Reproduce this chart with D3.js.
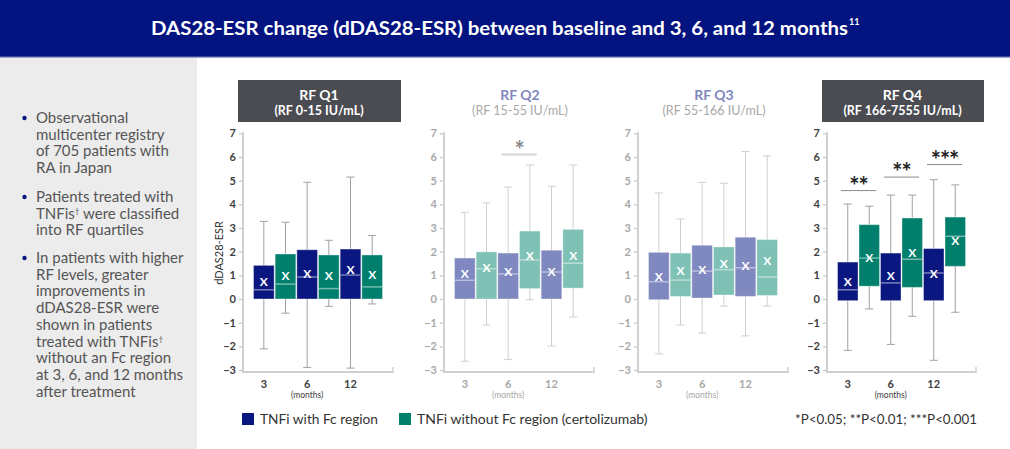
<!DOCTYPE html>
<html><head><meta charset="utf-8">
<script src="https://cdn.jsdelivr.net/npm/d3@7"></script>
<style>
html,body{margin:0;padding:0;background:#fff;}
svg{display:block;font-family:Lato,"Open Sans",sans-serif;}
</style></head><body>
<svg id="chart" width="1010" height="449"></svg>
<script>
// ---------------- DATA ----------------
const chartTitle = "DAS28-ESR change (dDAS28-ESR) between baseline and 3, 6, and 12 months";
const titleRef = "11";
const months = ["3", "6", "12"];
const seriesNames = ["TNFi with Fc region", "TNFi without Fc region (certolizumab)"];
const panelTitles = ["RF Q1", "RF Q2", "RF Q3", "RF Q4"];
const panelRanges = ["(RF 0-15 IU/mL)", "(RF 15-55 IU/mL)", "(RF 55-166 IU/mL)", "(RF 166-7555 IU/mL)"];
const yTicks = [-3, -2, -1, 0, 1, 2, 3, 4, 5, 6, 7];
const yLabel = "dDAS28-ESR";
const xUnit = "(months)";
// each entry: [lower whisker, Q1, median, Q3, upper whisker, mean] at 3, 6, 12 months
const q1WithFc    = [[-2.11, 0, 0.39, 1.42, 3.28, 0.75], [-2.89, 0, 0.93, 2.08, 4.93, 1.08], [-2.92, 0, 1.01, 2.11, 5.15, 1.24]];
const q1WithoutFc = [[-0.60, 0, 0.63, 1.90, 3.24, 1.00], [-0.31, 0, 0.44, 1.86, 2.48, 1.00], [-0.21, 0, 0.51, 1.86, 2.68, 1.03]];
const q2WithFc    = [[-2.63, 0, 0.79, 1.73, 3.66, 1.06], [-2.56, 0, 1.06, 1.94, 4.73, 1.15], [-1.99, 0, 1.14, 2.06, 4.76, 1.15]];
const q2WithoutFc = [[-1.10, 0, 1.28, 1.99, 4.06, 1.34], [-0.03, 0.44, 1.65, 2.87, 5.66, 1.82], [-0.76, 0.46, 1.51, 2.94, 5.66, 1.83]];
const q3WithFc    = [[-2.32, -0.03, 0.73, 1.97, 4.48, 0.96], [-1.44, 0.04, 1.18, 2.27, 4.93, 1.24], [-1.56, 0.11, 1.32, 2.61, 6.23, 1.41]];
const q3WithoutFc = [[-1.10, 0.11, 0.80, 1.94, 3.38, 1.20], [-0.30, 0.17, 1.24, 2.20, 4.89, 1.50], [-0.30, 0.15, 0.93, 2.51, 6.04, 1.63]];
const q4WithFc    = [[-2.17, -0.07, 0.39, 1.56, 4.01, 0.73], [-1.92, -0.07, 0.68, 1.94, 4.39, 0.99], [-2.59, -0.07, 1.10, 2.13, 5.04, 1.08]];
const q4WithoutFc = [[-0.42, 0.54, 1.73, 3.14, 3.92, 1.73], [-0.73, 0.49, 1.68, 3.42, 4.39, 1.96], [-0.56, 1.38, 2.65, 3.46, 4.82, 2.45]];
const q1Significance = ["", "", ""];
const q2Significance = ["", "*", ""];
const q3Significance = ["", "", ""];
const q4Significance = ["**", "**", "***"];
const q2SignificanceLevel = [null, 6.1, null];
const q4SignificanceLevel = [4.58, 5.15, 5.68];
const bulletPoints = [
  ["Observational", "multicenter registry", "of 705 patients with", "RA in Japan"],
  ["Patients treated with", "TNFis\u2020 were classified", "into RF quartiles"],
  ["In patients with higher", "RF levels, greater", "improvements in", "dDAS28-ESR were", "shown in patients", "treated with TNFis\u2020", "without an Fc region", "at 3, 6, and 12 months", "after treatment"]
];
const footnote = "*P<0.05; **P<0.01; ***P<0.001";

// ---------------- LAYOUT / STYLE ----------------
const panelData = [
  {fc: q1WithFc, nofc: q1WithoutFc, sig: q1Significance, lvl: [null, null, null], strong: true},
  {fc: q2WithFc, nofc: q2WithoutFc, sig: q2Significance, lvl: q2SignificanceLevel, strong: false},
  {fc: q3WithFc, nofc: q3WithoutFc, sig: q3Significance, lvl: [null, null, null], strong: false},
  {fc: q4WithFc, nofc: q4WithoutFc, sig: q4Significance, lvl: q4SignificanceLevel, strong: true}
];
const axisLeftX = [243, 444, 638, 827];
const axisWidth = [150, 150, 150, 149];
const colStrong = {fc: "#0b1780", nofc: "#00806c"};
const colMuted = {fc: "#8088c0", nofc: "#7fc1b5"};

const svg = d3.select("#chart");

function fit(sel, w) {
  const n = sel.node();
  const len = n.getComputedTextLength();
  if (Math.abs(len - w) / w > 0.02) sel.attr("textLength", w).attr("lengthAdjust", "spacingAndGlyphs");
}

// header
svg.append("rect").attr("x", 0).attr("y", 0).attr("width", 1010).attr("height", 57).attr("fill", "#03137f");
svg.append("rect").attr("x", 0).attr("y", 56).attr("width", 1010).attr("height", 1.5).attr("fill", "#3a48a0");
const tt = svg.append("text").attr("x", 151).attr("y", 35).attr("fill", "#fff")
  .attr("font-size", 18).attr("font-weight", 700).text(chartTitle);
fit(tt, 697);
svg.append("text").attr("x", 849).attr("y", 25).attr("fill", "#fff")
  .attr("font-size", 9).attr("font-weight", 700).text(titleRef);

// left panel
svg.append("rect").attr("x", 0).attr("y", 58).attr("width", 197).attr("height", 391).attr("fill", "#ececec");
const paraStart = [123, 202, 263];
const lineH = 16.7;
bulletPoints.forEach((lines, pi) => {
  svg.append("circle").attr("cx", 24.5).attr("cy", paraStart[pi] - 5).attr("r", 2.2).attr("fill", "#0b1780");
  lines.forEach((ln, li) => {
    const t = svg.append("text").attr("x", 36).attr("y", paraStart[pi] + li * lineH)
      .attr("font-size", 15).attr("fill", "#555");
    const parts = ln.split("\u2020");
    t.append("tspan").text(parts[0]);
    if (parts.length > 1) {
      t.append("tspan").attr("font-size", 8).attr("dy", -5).text("\u2020");
      t.append("tspan").attr("dy", 5).text(parts[1]);
    }
  });
});

// panels
const y = d3.scaleLinear().domain([-3, 7]).range([370, 133.3]);
const xAxisY = 372;

panelData.forEach((p, i) => {
  const ax = axisLeftX[i], aw = axisWidth[i];
  const col = p.strong ? colStrong : colMuted;
  const txtCol = p.strong ? "#404040" : "#a8a8a8";
  const whCol = p.strong ? "#a0a0a0" : "#cfcfcf";
  const g = svg.append("g");

  // title
  const cx = ax + aw / 2 + 1;
  if (p.strong) {
    g.append("rect").attr("x", ax - 5).attr("y", 80).attr("width", aw + 13).attr("height", 42).attr("fill", "#4a4c51");
    g.append("text").attr("x", cx).attr("y", 100).attr("text-anchor", "middle").attr("fill", "#fff")
      .attr("font-size", 14).attr("font-weight", 700).text(panelTitles[i]);
    g.append("text").attr("x", cx).attr("y", 115).attr("text-anchor", "middle").attr("fill", "#fff")
      .attr("font-size", 12.5).attr("font-weight", 700).text(panelRanges[i]);
  } else {
    g.append("text").attr("x", cx).attr("y", 100).attr("text-anchor", "middle").attr("fill", "#7f87c0")
      .attr("font-size", 14).attr("font-weight", 700).text(panelTitles[i]);
    g.append("text").attr("x", cx).attr("y", 115).attr("text-anchor", "middle").attr("fill", "#a8a8a8")
      .attr("font-size", 12.5).text(panelRanges[i]);
  }

  // axes
  const yAx = g.append("g").attr("transform", `translate(${ax},0)`)
    .call(d3.axisLeft(y).tickValues(yTicks).tickSize(4).tickSizeOuter(0).tickPadding(3));
  yAx.select(".domain").remove();
  yAx.selectAll(".tick line").attr("stroke", "#cfcfcf").attr("stroke-width", 1.5);
  yAx.selectAll(".tick text").attr("fill", txtCol).attr("font-size", 11).attr("font-weight", 700)
    .attr("font-family", "Lato, sans-serif");
  g.append("line").attr("x1", ax).attr("x2", ax).attr("y1", y(7) - 1).attr("y2", xAxisY + 1)
    .attr("stroke", "#d0d0d0").attr("stroke-width", 2);
  g.append("line").attr("x1", ax).attr("x2", ax + aw).attr("y1", xAxisY).attr("y2", xAxisY)
    .attr("stroke", "#d0d0d0").attr("stroke-width", 2);
  g.append("line").attr("x1", ax + aw).attr("x2", ax + aw).attr("y1", xAxisY + 1).attr("y2", xAxisY - 5)
    .attr("stroke", "#d0d0d0").attr("stroke-width", 1.5);

  const xo = d3.scaleBand().domain(months).range([ax + 10, ax + aw - 10]).padding(0);
  const xi = d3.scaleBand().domain(["fc", "nofc"]).range([0, xo.bandwidth()]).padding(0);

  // x labels
  months.forEach(m => {
    g.append("text").attr("x", xo(m) + xi("fc") + xi.bandwidth() / 2).attr("y", 388)
      .attr("text-anchor", "middle").attr("font-size", 11).attr("font-weight", 700).attr("fill", txtCol).text(m);
  });
  g.append("text").attr("x", xo("6") + xi("fc") + xi.bandwidth() / 2).attr("y", 398)
    .attr("text-anchor", "middle").attr("font-size", 8.5).attr("fill", txtCol).text(xUnit);

  // boxes
  const bw = xi.bandwidth();
  ["fc", "nofc"].forEach(s => {
    p[s].forEach((d, mi) => {
      const x0 = xo(months[mi]) + xi(s);
      const xc = x0 + bw / 2;
      const [lo, q1, med, q3, hi, mean] = d;
      g.append("line").attr("x1", xc).attr("x2", xc).attr("y1", y(lo)).attr("y2", y(hi))
        .attr("stroke", whCol).attr("stroke-width", 1);
      [lo, hi].forEach(v => g.append("line").attr("x1", xc - 4).attr("x2", xc + 4).attr("y1", y(v)).attr("y2", y(v))
        .attr("stroke", whCol).attr("stroke-width", 1));
      g.append("rect").attr("x", x0 + 0.5).attr("y", y(q3)).attr("width", bw - 1).attr("height", y(q1) - y(q3))
        .attr("fill", col[s]).attr("stroke", "rgba(255,255,255,0.35)").attr("stroke-width", 1);
      g.append("line").attr("x1", x0 + 1).attr("x2", x0 + bw - 1).attr("y1", y(med)).attr("y2", y(med))
        .attr("stroke", "rgba(255,255,255,0.45)").attr("stroke-width", 1.5);
      g.append("text").attr("x", xc).attr("y", y(mean)).attr("dy", "0.36em").attr("text-anchor", "middle")
        .attr("fill", "#fff").attr("font-size", 12).attr("font-weight", 700).text("X");
    });
  });

  // significance
  months.forEach((m, mi) => {
    if (!p.sig[mi]) return;
    const ly = y(p.lvl[mi]);
    const x0 = xo(m) + 4, x1 = xo(m) + xo.bandwidth() - 4;
    g.append("line").attr("x1", x0).attr("x2", x1).attr("y1", ly).attr("y2", ly)
      .attr("stroke", p.strong ? "#8a8a8a" : "#d6d6d6").attr("stroke-width", p.strong ? 1 : 2);
    g.append("text").attr("x", (x0 + x1) / 2).attr("y", ly + 4).attr("text-anchor", "middle")
      .attr("font-size", 24).attr("font-weight", 700).attr("letter-spacing", -1)
      .attr("fill", p.strong ? "#222" : "#888").text(p.sig[mi]);
  });
});

// y label
svg.append("text").attr("transform", "translate(223,253) rotate(-90)").attr("text-anchor", "middle")
  .attr("font-size", 11).attr("fill", "#333").text(yLabel);

// legend
const legendX = [242, 399];
const legendW = [118, 231];
seriesNames.forEach((s, i) => {
  svg.append("rect").attr("x", legendX[i]).attr("y", 413).attr("width", 12).attr("height", 12)
    .attr("fill", i === 0 ? colStrong.fc : colStrong.nofc);
  const t = svg.append("text").attr("x", legendX[i] + 18).attr("y", 424).attr("font-size", 14)
    .attr("fill", "#333").text(s);
  fit(t, legendW[i]);
});
const fn = svg.append("text").attr("x", 977).attr("y", 424).attr("text-anchor", "end").attr("font-size", 14)
  .attr("fill", "#333").text(footnote);
fit(fn, 182);
</script>
</body></html>
